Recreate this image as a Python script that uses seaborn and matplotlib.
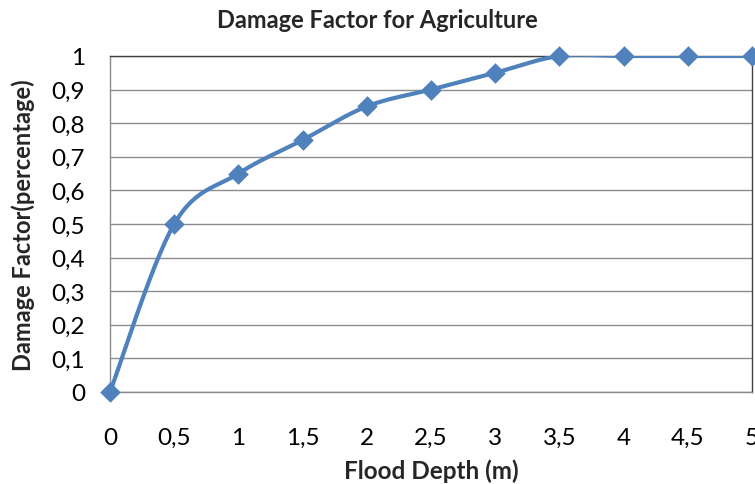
import numpy as np
import pandas as pd
import matplotlib
matplotlib.use("Agg")
import matplotlib.pyplot as plt
import seaborn as sns
from matplotlib.ticker import FuncFormatter

# data
depth = [0, 0.5, 1, 1.5, 2, 2.5, 3, 3.5, 4, 4.5, 5]
damage = [0, 0.5, 0.65, 0.75, 0.85, 0.9, 0.95, 1, 1, 1, 1]

title = "Damage Factor for Agriculture"
xlabel = "Flood Depth (m)"
ylabel = "Damage Factor(percentage)"
line_color = "#4F81BD"


def smooth_curve(x, y, n=30):
    """Excel-style smoothed line (cubic Bezier, Catmull-Rom control points)"""
    x = np.asarray(x, float)
    y = np.asarray(y, float)
    xs, ys = [], []
    for i in range(len(x) - 1):
        i0 = max(i - 1, 0)
        i3 = min(i + 2, len(x) - 1)
        p0 = np.array([x[i], y[i]])
        p3 = np.array([x[i + 1], y[i + 1]])
        c1 = p0 + (p3 - np.array([x[i0], y[i0]])) / 6
        c2 = p3 - (np.array([x[i3], y[i3]]) - p0) / 6
        t = np.linspace(0, 1, n)[:, None]
        pts = ((1 - t) ** 3) * p0 + 3 * ((1 - t) ** 2) * t * c1 + 3 * (1 - t) * t ** 2 * c2 + t ** 3 * p3
        xs.extend(pts[:, 0])
        ys.extend(pts[:, 1])
    return pd.DataFrame({"x": xs, "y": ys})


sns.set_style("white")
plt.rcParams["font.family"] = ["Lato", "DejaVu Sans"]

fig = plt.figure(figsize=(7.55, 4.85), dpi=100)
ax = fig.add_axes([0.1457, 0.1897, 0.8503, 0.6928])

curve = smooth_curve(depth, damage)
sns.lineplot(data=curve, x="x", y="y", ax=ax, color=line_color, linewidth=3,
             sort=False, estimator=None, zorder=3)
pts = pd.DataFrame({"x": depth, "y": damage})
sns.scatterplot(data=pts, x="x", y="y", ax=ax, color=line_color, marker="D",
                s=110, edgecolor=line_color, linewidth=0, zorder=4, clip_on=False)

ax.set_xlim(0, 5)
ax.set_ylim(0, 1)
ax.set_xticks(depth)
ax.set_yticks(np.arange(0, 11) / 10)
fmt = FuncFormatter(lambda v, p: f"{v:g}".replace(".", ","))
ax.xaxis.set_major_formatter(fmt)
ax.yaxis.set_major_formatter(fmt)
ax.tick_params(axis="x", length=0, pad=25, labelsize=17.5, colors="black")
ax.tick_params(axis="y", length=0, pad=18, labelsize=17.5, colors="black")

ax.grid(axis="y", color="#8c8c8c", linewidth=1)
ax.set_axisbelow(True)
for side in ["left", "bottom"]:
    ax.spines[side].set_color("#8c8c8c")
    ax.spines[side].set_linewidth(1)
for side in ["top", "right"]:
    ax.spines[side].set_color("#404040")
    ax.spines[side].set_linewidth(1)

# title is centred on the whole chart, not on the plot area
fig.text(0.5, 0.958, title, fontsize=17, fontweight="bold", ha="center", va="center")
ax.set_xlabel(xlabel, fontsize=17.5, fontweight="bold", labelpad=8)
ax.set_ylabel(ylabel, fontsize=17, fontweight="bold", labelpad=12)

fig.savefig("out.png", dpi=100)
